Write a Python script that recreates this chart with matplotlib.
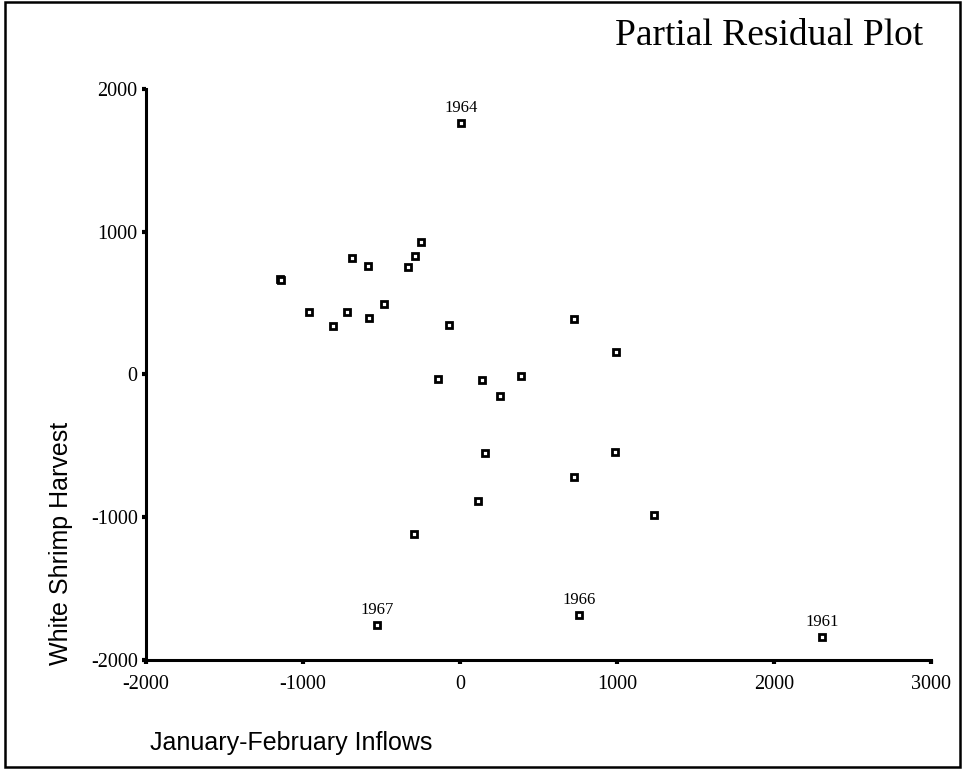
import matplotlib.pyplot as plt
from matplotlib.patches import Rectangle

# partial residuals
inflow = [-1148, -1142, -960, -808, -717, -685, -584, -582, -482, -331, -288, -248,
          8, -72, -139, 141, 388, 256, 160, 116, -290, -529,
          723, 992, 987, 729, 1233, 757, 2305]
harvest = [666, 660, 440, 342, 440, 817, 763, 398, 496, 752, 831, 931,
           1761, 344, -35, -42, -10, -154, -553, -889, -1120, -1752,
           389, 158, -542, -719, -987, -1682, -1836]

# labelled outliers
year_labels = ["1964", "1967", "1966", "1961"]
year_x = [8, -529, 757, 2305]
year_y = [1761, -1752, -1682, -1836]

x_ticks = [-2000, -1000, 0, 1000, 2000, 3000]
y_ticks = [-2000, -1000, 0, 1000, 2000]

serif = ["Liberation Serif", "DejaVu Serif"]
sans = ["Liberation Sans", "DejaVu Sans"]

W, H = 971, 769
fig = plt.figure(figsize=(W / 100, H / 100), dpi=100)
ax = fig.add_axes([146 / W, 1 - 660 / H, (931 - 146) / W, (660 - 89) / H])

ax.plot(inflow, harvest, "s", ms=4.6, mew=2.0, mec="black", mfc="white",
        linestyle="none", clip_on=False)

for lab, xx, yy in zip(year_labels, year_x, year_y):
    ax.annotate(lab, (xx, yy), xytext=(0, 5), textcoords="offset points",
                ha="center", va="bottom", fontsize=12, family=serif)

ax.set_xlim(-2000, 3000)
ax.set_ylim(-2000, 2000)
ax.set_xticks(x_ticks)
ax.set_yticks(y_ticks)
ax.set_xticklabels([str(v) for v in x_ticks], family=serif, fontsize=14.5)
ax.set_yticklabels([str(v) for v in y_ticks], family=serif, fontsize=14.5)
ax.tick_params(axis="x", direction="out", length=3, width=3, pad=8)
ax.tick_params(axis="y", direction="out", length=3, width=3, pad=3)

for s in ["top", "right"]:
    ax.spines[s].set_visible(False)
for s in ["left", "bottom"]:
    ax.spines[s].set_linewidth(2.2)

fig.text(923 / W, 1 - 45 / H, "Partial Residual Plot", ha="right", va="baseline",
         fontsize=27, family=serif)
fig.text(61 / W, 1 - 543 / H, "White Shrimp Harvest", rotation=90,
         ha="center", va="center", fontsize=18, family=sans)
fig.text(150 / W, 1 - 743 / H, "January-February Inflows", ha="left",
         va="center", fontsize=18, family=sans)

# outer frame
fig.patches.append(Rectangle((5 / W, 2 / H), (960 - 5) / W, (767 - 2) / H,
                             transform=fig.transFigure, fill=False,
                             edgecolor="black", linewidth=1.8))

fig.savefig("out.png", dpi=100)
